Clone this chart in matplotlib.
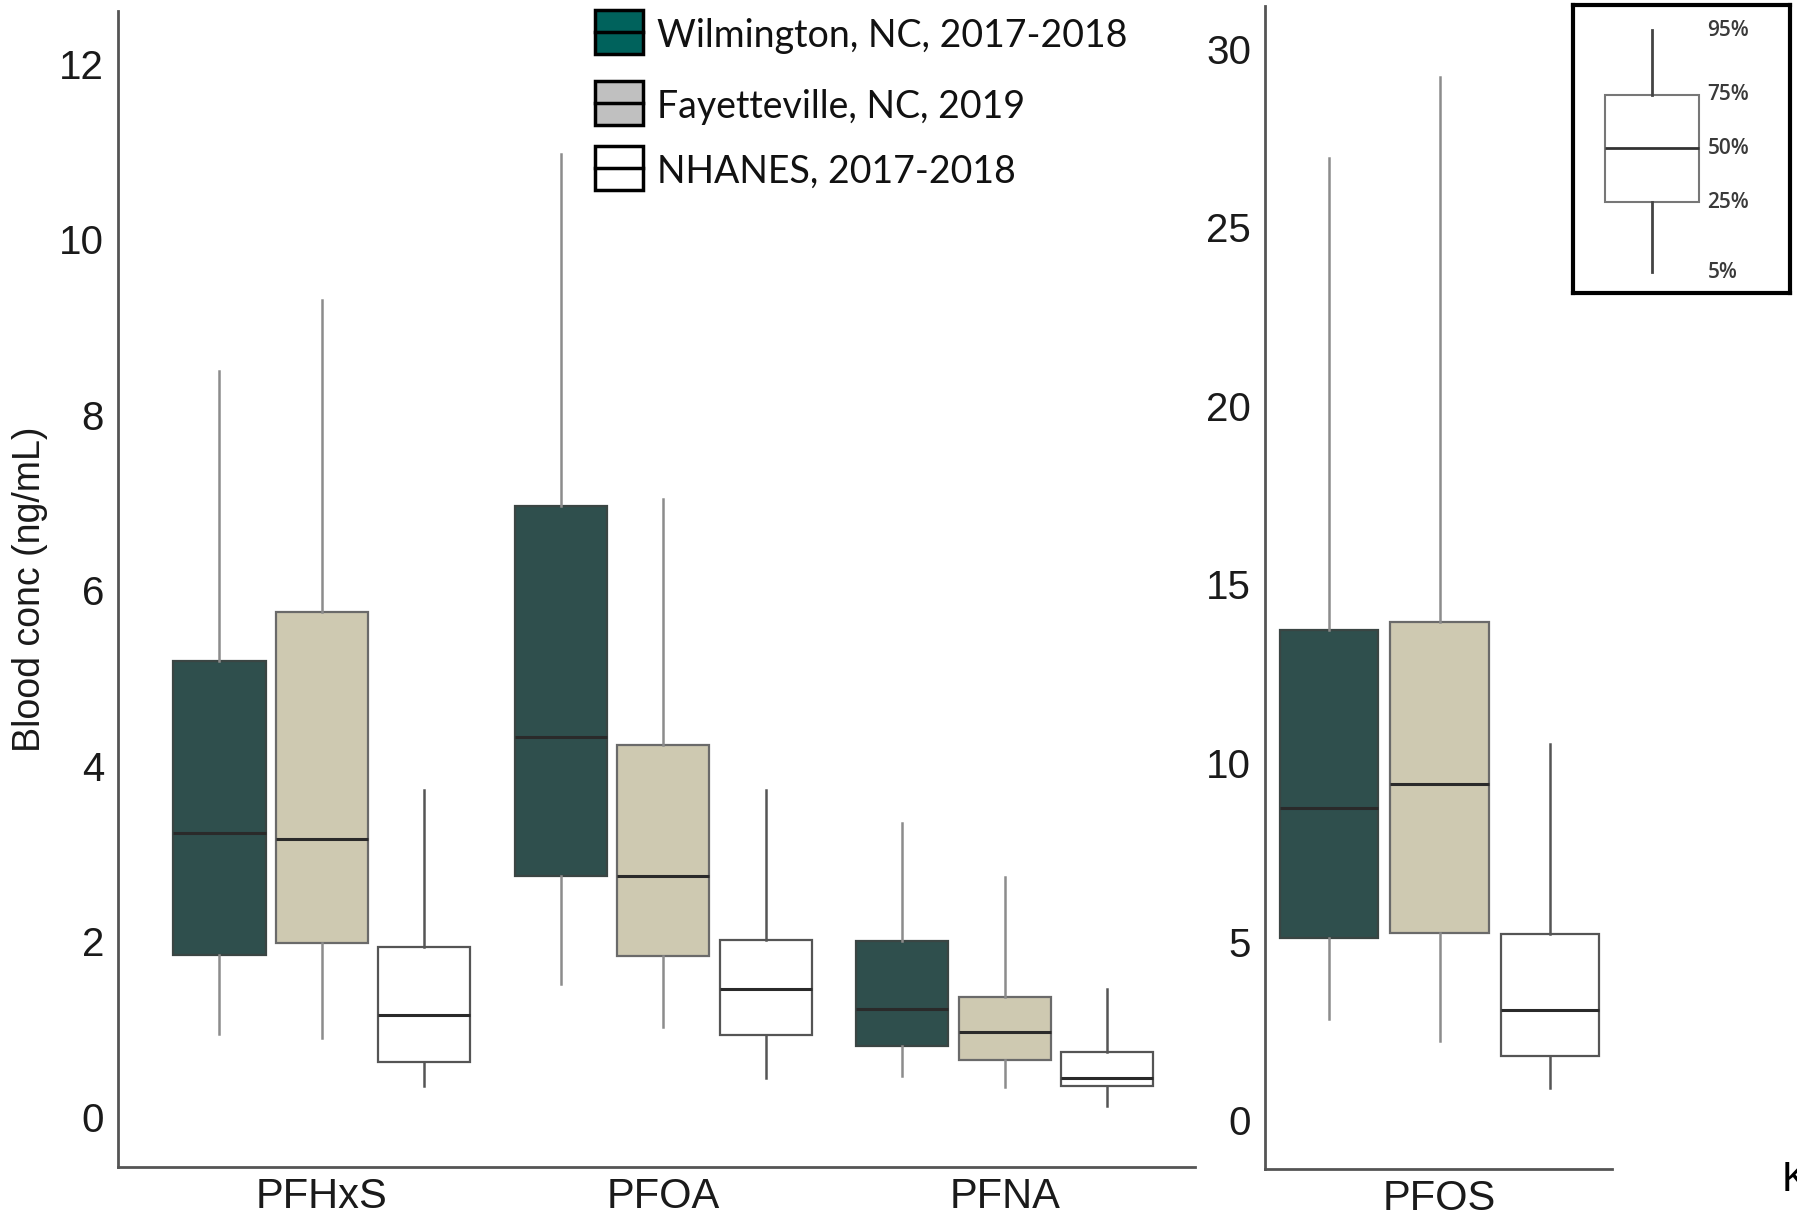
import matplotlib
matplotlib.use('Agg')
import matplotlib.pyplot as plt
from matplotlib.patches import Rectangle
from matplotlib.lines import Line2D

W, H = 1797, 1218

compounds = ['PFHxS', 'PFOA', 'PFNA']
groups = ['Wilmington, NC, 2017-2018', 'Fayetteville, NC, 2019', 'NHANES, 2017-2018']

# 5th, 25th, 50th, 75th, 95th percentiles (ng/mL) for PFHxS, PFOA, PFNA
wilmington = [[0.94, 1.85, 3.23, 5.19, 8.50],
              [1.51, 2.75, 4.33, 6.96, 10.97],
              [0.47, 0.81, 1.23, 2.01, 3.35]]
fayetteville = [[0.90, 1.98, 3.17, 5.75, 9.31],
                [1.03, 1.83, 2.74, 4.24, 7.04],
                [0.34, 0.65, 0.97, 1.37, 2.73]]
nhanes = [[0.35, 0.63, 1.16, 1.94, 3.73],
          [0.44, 0.93, 1.46, 2.02, 3.73],
          [0.13, 0.35, 0.44, 0.74, 1.46]]

# PFOS on its own scale: Wilmington, Fayetteville, NHANES
pfos = [[2.83, 5.11, 8.74, 13.72, 26.95],
        [2.22, 5.24, 9.41, 13.94, 29.20],
        [0.90, 1.80, 3.08, 5.20, 10.54]]

# key box (arbitrary units) and its labels
key_stats = [21, 91, 145, 198, 263]
key_labels = ['5%', '25%', '50%', '75%', '95%']

face = ['#2F4F4D', '#CEC9B1', '#FFFFFF']
edge = ['#3a4543', '#6a6a6a', '#555555']
whisk = ['#8c8c8c', '#8c8c8c', '#555555']
legend_face = ['#00625C', '#C0C0C0', '#FFFFFF']


def px(x0, y0, x1, y1):
    return [x0 / W, 1 - y1 / H, (x1 - x0) / W, (y1 - y0) / H]


def box(ax, pos, width, st, i):
    s = dict(whislo=st[0], q1=st[1], med=st[2], q3=st[3], whishi=st[4], fliers=[])
    ax.bxp([s], positions=[pos], widths=width, patch_artist=True, showcaps=False,
           showfliers=False,
           boxprops=dict(facecolor=face[i], edgecolor=edge[i], linewidth=1.6),
           whiskerprops=dict(color=whisk[i], linewidth=1.8),
           medianprops=dict(color='#2a2a2a', linewidth=2.2))


def style(ax):
    for s in ['top', 'right']:
        ax.spines[s].set_visible(False)
    for s in ['left', 'bottom']:
        ax.spines[s].set_color('#555555')
        ax.spines[s].set_linewidth(2)
    ax.tick_params(axis='y', length=0, pad=10)
    ax.tick_params(axis='x', length=0, pad=7)
    for lab in ax.get_yticklabels():
        lab.set_fontfamily('Liberation Sans')
        lab.set_fontsize(29)
        lab.set_color('#1a1a1a')
    for lab in ax.get_xticklabels():
        lab.set_fontfamily('Liberation Sans')
        lab.set_fontsize(30)
        lab.set_color('#1a1a1a')


fig = plt.figure(figsize=(W / 100, H / 100), dpi=100)

# left panel
ax = fig.add_axes(px(118, 11, 1195, 1167))
offsets = [-0.30, 0.0, 0.30]
for j, data in enumerate([wilmington, fayetteville, nhanes]):
    for c in range(len(compounds)):
        box(ax, c + offsets[j], 0.27, data[c], j)
ax.set_xlim(-0.597, 2.557)
ax.set_ylim(-0.57, 12.6)
ax.set_yticks([0, 2, 4, 6, 8, 10, 12])
ax.set_xticks(range(len(compounds)))
ax.set_xticklabels(compounds)
style(ax)
ax.set_ylabel('Blood conc (ng/mL)', family='Liberation Sans',
              fontsize=27, color='#1a1a1a')
ax.yaxis.set_label_coords((48 - 118) / (1195 - 118), 0.5)

# right panel (PFOS)
ax2 = fig.add_axes(px(1265, 6, 1612, 1169))
for j in range(3):
    box(ax2, j - 1, 0.89, pfos[j], j)
ax2.set_xlim(-1.58, 1.56)
ax2.set_ylim(-1.37, 31.2)
ax2.set_yticks([0, 5, 10, 15, 20, 25, 30])
ax2.set_xticks([0])
ax2.set_xticklabels(['PFOS'])
style(ax2)

# legend
for j, name in enumerate(groups):
    yc = [32, 103, 168][j]
    r = Rectangle((595 / W, 1 - (yc + 22) / H), 48 / W, 44 / H, transform=fig.transFigure,
                  facecolor=legend_face[j], edgecolor='black', linewidth=2.5)
    fig.add_artist(r)
    fig.add_artist(Line2D([595 / W, 643 / W], [1 - yc / H, 1 - yc / H],
                          transform=fig.transFigure, color='black', linewidth=2.5))
    fig.text(657 / W, 1 - (yc + 4) / H, name, family='Lato', fontsize=27, color='#111111',
             va='center', ha='left')

# key inset
kx = fig.add_axes(px(1573, 5, 1790, 293))
kx.set_xlim(0, 1)
kx.set_ylim(0, 288)
s = dict(whislo=key_stats[0], q1=key_stats[1], med=key_stats[2], q3=key_stats[3],
         whishi=key_stats[4], fliers=[])
kx.bxp([s], positions=[0.364], widths=0.43, patch_artist=True, showcaps=False,
       boxprops=dict(facecolor='white', edgecolor='#777777', linewidth=1.5),
       whiskerprops=dict(color='#444444', linewidth=2),
       medianprops=dict(color='#333333', linewidth=2))
for v, lab in zip(key_stats, key_labels):
    kx.text(0.62, v, lab, family='Open Sans', fontsize=15, fontweight='semibold',
            color='#3a3a3a', va='center', ha='left')
kx.set_xticks([])
kx.set_yticks([])
for sp in kx.spines.values():
    sp.set_linewidth(3)
    sp.set_color('black')

fig.text(1782 / W, 1 - 1180 / H, 'K', family='Liberation Sans', fontsize=30,
         color='black', va='center', ha='left')

fig.savefig('out.png', dpi=100)
